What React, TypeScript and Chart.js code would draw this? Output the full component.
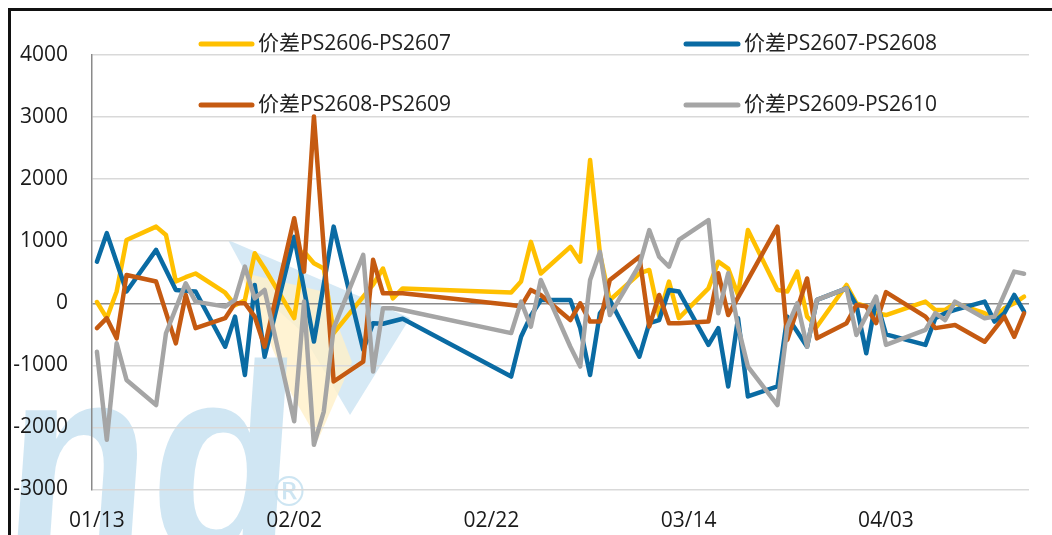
import { useEffect, useRef } from 'react';
import { Chart, registerables } from 'chart.js';

Chart.register(...registerables);

// ---------- data ----------
const dates = [
  '01/13','01/14','01/15','01/16','01/19','01/20','01/21','01/22','01/23','01/26','01/27','01/28','01/29','01/30',
  '02/02','02/03','02/04','02/05','02/06','02/09','02/10','02/11','02/12','02/13','02/24','02/25','02/26','02/27',
  '03/02','03/03','03/04','03/05','03/06','03/09','03/10','03/11','03/12','03/13','03/16','03/17','03/18','03/19','03/20',
  '03/23','03/24','03/25','03/26','03/27','03/30','03/31',
  '04/01','04/02','04/03','04/07','04/08','04/09','04/10','04/13','04/14','04/15','04/16','04/17',
];

const seriesNames = ['价差PS2606-PS2607', '价差PS2607-PS2608', '价差PS2608-PS2609', '价差PS2609-PS2610'];

const spread0607 = [
  20, -240, 190, 1020, 1235, 1100, 350, 420, 480, 170, -30, 50, 805, 560,
  -240, 830, 645, 560, -480, 107, 300, 560, 80, 240, 172, 350, 990, 480,
  910, 670, 2310, 800, 50, 480, 537, -200, 350, -240, 240, 670, 560, 134, 1180,
  215, 190, 510, -215, -375, 295, 0,
  -50, -160, -190, 27, -107, -107, 0, -160, -240, -80, 0, 107,
];

const spread0708 = [
  670, 1130, null, 190, 860, 537, 215, 200, 190, -700, -215, -1155, 295, -860,
  1070, null, -617, null, 1235, -750, -320, -330, -290, -250, -1180, -540, -200, 54,
  54, -400, -1155, -160, 54, -860, -320, -270, 215, 190, -670, -400, -1340, -240, -1500,
  -1340, -215, null, -700, 54, 240, -30,
  -805, 54, -500, -670, -240, -160, -107, 27, -295, -160, 134, -134,
];

const spread0809 = [
  -400, -240, -565, 456, 350, null, -645, 134, -400, -240, 0, 0, -215, -700,
  1370, 510, 3010, null, -1260, -940, 700, 160, 160, 160, -27, -50, 215, 134,
  -270, 0, -295, -295, 375, 750, -375, 134, -320, -320, -295, 483, -190, null, null,
  1235, -590, null, 400, -565, -320, -27,
  -50, -320, 180, -215, -400, null, -350, -620, null, -215, -540, -160,
];

const spread0910 = [
  -780, -2200, -645, -1235, -1640, -483, null, 320, 27, -54, 54, 590, 80, 215,
  -1900, 27, -2280, -1745, -400, 780, -1100, -80, -80, -107, -480, 27, -375, 375,
  -700, -1020, 375, 830, -190, 617, 1180, 750, 590, 1020, 1340, -160, 483, -375, -1020,
  -1640, -375, 0, -700, 54, 240, -510,
  null, 107, -670, -430, -160, -270, 27, -240, -215, null, 510, 475,
];

const seriesColors = ['#FFC000', '#0A6BA3', '#C55A11', '#A5A5A5'];

const xTickDates = ['01/13', '02/02', '02/22', '03/14', '04/03'];
const yMin = -3000;
const yMax = 4000;
const yStep = 1000;

// ---------- helpers ----------
const BASE = Date.UTC(2026, 0, 13);
function dayOf(s: string): number {
  const [m, d] = s.split('/').map(Number);
  return Math.round((Date.UTC(2026, m - 1, d) - BASE) / 86400000);
}

const FONT = '"Open Sans", "Noto Sans CJK SC", sans-serif';

const decorPlugin = {
  id: 'decor',
  beforeDraw(chart: any) {
    const ctx = chart.ctx;
    ctx.save();
    // watermark swoosh
    ctx.fillStyle = 'rgba(200,226,241,0.75)';
    ctx.beginPath();
    ctx.moveTo(228, 240);
    ctx.lineTo(410, 318);
    ctx.lineTo(350, 415);
    ctx.lineTo(300, 330);
    ctx.lineTo(255, 290);
    ctx.closePath();
    ctx.fill();
    ctx.fillStyle = 'rgba(255,240,200,0.8)';
    ctx.beginPath();
    ctx.moveTo(240, 272);
    ctx.lineTo(325, 292);
    ctx.lineTo(352, 362);
    ctx.lineTo(318, 440);
    ctx.lineTo(292, 395);
    ctx.closePath();
    ctx.fill();
    // watermark letters
    ctx.fillStyle = 'rgba(200,226,241,0.85)';
    ctx.translate(0, 552);
    ctx.transform(1, 0, -0.07, 1, 0, 0);
    ctx.scale(1.08, 1.22);
    ctx.font = 'bold 220px "Liberation Sans", sans-serif';
    ctx.textBaseline = 'alphabetic';
    ctx.textAlign = 'left';
    ctx.fillText('nd', 0, 0);
    ctx.restore();
    ctx.save();
    ctx.fillStyle = 'rgba(200,226,241,0.9)';
    ctx.font = '40px "DejaVu Sans", sans-serif';
    ctx.textAlign = 'center';
    ctx.textBaseline = 'middle';
    ctx.fillText('®', 289, 496);
    ctx.restore();
  },
  afterDraw(chart: any) {
    const ctx = chart.ctx;
    ctx.save();
    // outer frame (top and left visible)
    ctx.strokeStyle = '#111';
    ctx.lineWidth = 3;
    ctx.beginPath();
    ctx.moveTo(9.5, 560);
    ctx.lineTo(9.5, 9.5);
    ctx.lineTo(1060, 9.5);
    ctx.stroke();
    // legend
    const items = [
      { x1: 201, x2: 252, y: 44, tx: 258 },
      { x1: 686, x2: 738, y: 44, tx: 744 },
      { x1: 201, x2: 252, y: 105, tx: 258 },
      { x1: 686, x2: 738, y: 105, tx: 744 },
    ];
    items.forEach((it, i) => {
      ctx.strokeStyle = seriesColors[i];
      ctx.lineWidth = 5;
      ctx.lineCap = 'round';
      ctx.beginPath();
      ctx.moveTo(it.x1, it.y);
      ctx.lineTo(it.x2, it.y);
      ctx.stroke();
      ctx.fillStyle = '#222';
      ctx.font = `21px ${FONT}`;
      ctx.textAlign = 'left';
      ctx.textBaseline = 'middle';
      ctx.fillText(seriesNames[i], it.tx, it.y);
    });
    ctx.restore();
  },
};

export default function App() {
  const ref = useRef<HTMLCanvasElement | null>(null);

  useEffect(() => {
    if (!ref.current) return;
    const all = [spread0607, spread0708, spread0809, spread0910];
    const xDays = dates.map(dayOf);
    const xTicks = xTickDates.map(dayOf);
    const chart = new Chart(ref.current, {
      type: 'line',
      data: {
        datasets: all.map((arr, i) => ({
          label: seriesNames[i],
          data: arr.map((v, j) => ({ x: xDays[j], y: v })),
          borderColor: seriesColors[i],
          backgroundColor: seriesColors[i],
          borderWidth: 4.5,
          pointRadius: 0,
          tension: 0,
          spanGaps: true,
          borderJoinStyle: 'round' as const,
          borderCapStyle: 'round' as const,
          order: 4 - i,
        })),
      },
      options: {
        responsive: false,
        animation: false,
        devicePixelRatio: 1,
        layout: { padding: { top: 55, right: 23, bottom: 0, left: 0 } },
        plugins: { legend: { display: false }, tooltip: { enabled: false } },
        scales: {
          x: {
            type: 'linear',
            min: -0.5,
            max: 94.5,
            afterBuildTicks: (scale: any) => {
              scale.ticks = xTicks.map((v) => ({ value: v }));
            },
            afterFit: (scale: any) => {
              scale.height = 45.5;
            },
            grid: { display: false, drawTicks: false },
            border: { display: false },
            ticks: {
              autoSkip: false,
              maxRotation: 0,
              padding: 19,
              color: '#1a1a1a',
              font: { size: 21, family: FONT },
              callback: (v: any) => {
                const idx = xTicks.indexOf(Number(v));
                return idx >= 0 ? xTickDates[idx] : '';
              },
            },
          },
          y: {
            min: yMin,
            max: yMax,
            afterFit: (scale: any) => {
              scale.width = 92;
            },
            grid: {
              drawTicks: false,
              lineWidth: 1.5,
              color: (c: any) => (c.tick && c.tick.value === 0 ? '#8a8a8a' : '#d9d9d9'),
            },
            border: { display: true, color: '#8a8a8a', width: 1.5 },
            ticks: {
              stepSize: yStep,
              padding: 24,
              color: '#1a1a1a',
              font: { size: 21, family: FONT },
              callback: (v: any) => String(v),
            },
          },
        },
      },
      plugins: [decorPlugin],
    } as any);
    return () => chart.destroy();
  }, []);

  return (
    <div style={{ position: 'absolute', left: 0, top: 0, width: 1052, height: 535, overflow: 'hidden' }}>
      <canvas ref={ref} width={1052} height={535} style={{ display: 'block' }} />
    </div>
  );
}
